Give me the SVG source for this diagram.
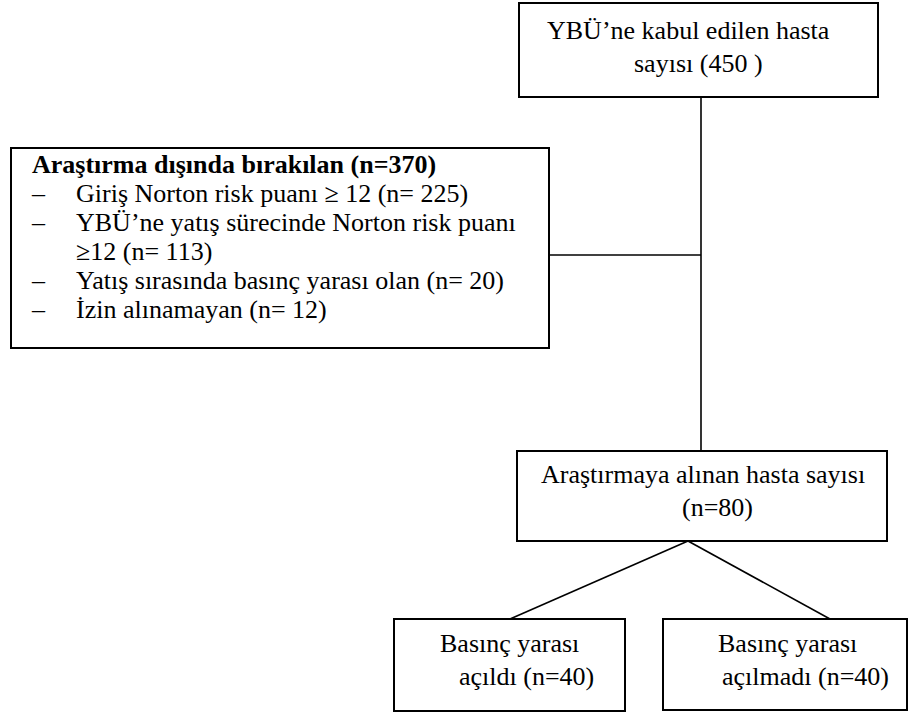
<svg xmlns="http://www.w3.org/2000/svg" width="909" height="714" viewBox="0 0 909 714">
<style>
.box{fill:#fff;stroke:#000;stroke-width:2}
.t{font-family:"Liberation Serif","Times New Roman",serif;font-size:26px;fill:#000}
.b{font-weight:bold}
.c{stroke:#000;stroke-width:1.6;fill:none}
</style>
<rect width="909" height="714" fill="#fff"/>
<g id="connectors">
<line class="c" x1="701" y1="97" x2="701" y2="451"/>
<line class="c" x1="549" y1="255" x2="701" y2="255"/>
<line class="c" x1="688" y1="541" x2="510" y2="619"/>
<line class="c" x1="688" y1="541" x2="830" y2="619"/>
</g>
<g id="n_admitted">
<rect class="box" x="519" y="3" width="359" height="94"/>
<text class="t" x="547" y="39">YBÜ’ne kabul edilen hasta</text>
<text class="t" x="634" y="72">sayısı (450 )</text>
</g>
<g id="n_excluded">
<rect class="box" x="11" y="148" width="538" height="200"/>
<text class="t b" x="32" y="173">Araştırma dışında bırakılan (n=370)</text>
<text class="t" x="32" y="202">–</text><text class="t" x="76" y="202">Giriş Norton risk puanı ≥ 12 (n= 225)</text>
<text class="t" x="32" y="231">–</text><text class="t" x="76" y="231">YBÜ’ne yatış sürecinde Norton risk puanı</text>
<text class="t" x="76" y="260">≥12 (n= 113)</text>
<text class="t" x="32" y="289">–</text><text class="t" x="76" y="289">Yatış sırasında basınç yarası olan (n= 20)</text>
<text class="t" x="32" y="318">–</text><text class="t" x="76" y="318">İzin alınamayan (n= 12)</text>
</g>
<g id="n_included">
<rect class="box" x="517" y="451" width="370" height="90"/>
<text class="t" x="541" y="483">Araştırmaya alınan hasta sayısı</text>
<text class="t" x="682" y="516">(n=80)</text>
</g>
<g id="n_ulcer_yes">
<rect class="box" x="394" y="619" width="231" height="92"/>
<text class="t" x="440" y="652">Basınç yarası</text>
<text class="t" x="459" y="685">açıldı (n=40)</text>
</g>
<g id="n_ulcer_no">
<rect class="box" x="663" y="619" width="244" height="91"/>
<text class="t" x="718" y="652">Basınç yarası</text>
<text class="t" x="722" y="685">açılmadı (n=40)</text>
</g>
</svg>
